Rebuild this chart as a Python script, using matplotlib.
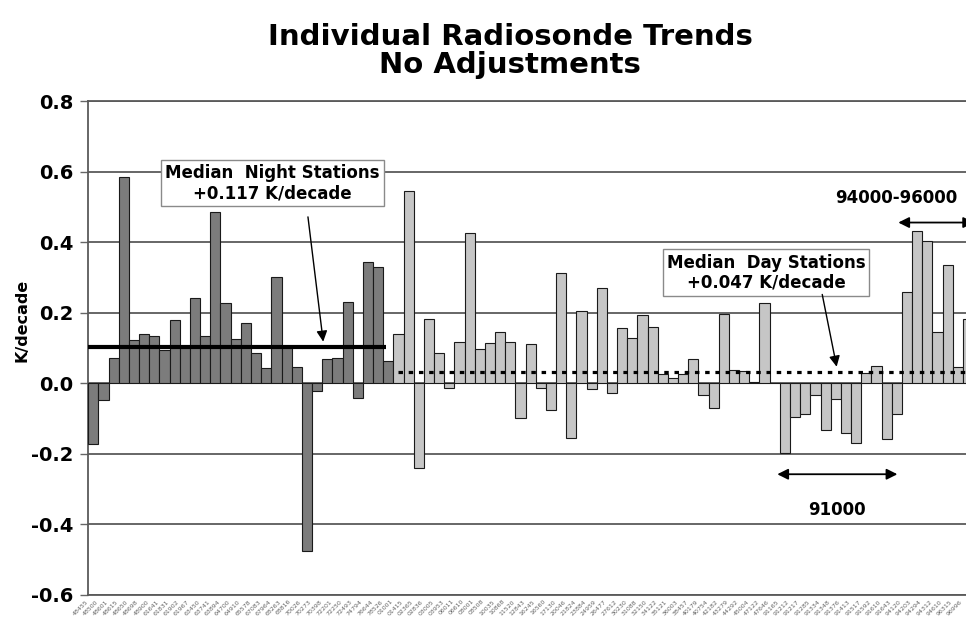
import matplotlib
matplotlib.use("Agg")
import matplotlib.pyplot as plt
import matplotlib.transforms as mtransforms
import numpy as np

# ---------------- data ----------------
night_ids = ["48455", "48500", "48601", "48615", "48650", "48698", "48900", "61641",
             "61831", "61902", "61967", "63450", "63741", "63894", "64700", "64910",
             "65578", "67083", "67964", "68263", "68816", "70026", "70273", "70398",
             "72201", "72250", "72493", "74794", "76644", "78526"]
night_vals = [-0.173, -0.048, 0.071, 0.586, 0.123, 0.140, 0.134, 0.095, 0.180, 0.100,
              0.241, 0.133, 0.487, 0.229, 0.125, 0.172, 0.087, 0.043, 0.302, 0.100,
              0.047, -0.476, -0.022, 0.069, 0.071, 0.230, -0.041, 0.345, 0.329, 0.064]

day_ids = ["01001", "01415", "02365", "02836", "03005", "03953", "06011", "06610",
           "08001", "08508", "10035", "10868", "11520", "12843", "16245", "16560",
           "17130", "20046", "21824", "23884", "24959", "26477", "27612", "30230",
           "31088", "32150", "34122", "35121", "36003", "38457", "40179", "40754",
           "42182", "43279", "44292", "45004", "47122", "47646",
           "91165", "91212", "91217", "91285", "91334", "91348", "91376", "91413",
           "91517", "91592", "91610", "91643",
           "94120", "94203", "94294", "94312", "94610", "96315", "96996"]
day_vals = [0.139, 0.546, -0.239, 0.182, 0.085, -0.014, 0.118, 0.425, 0.097, 0.113,
            0.145, 0.118, -0.098, 0.111, -0.014, -0.076, 0.314, -0.154, 0.205, -0.017,
            0.270, -0.027, 0.158, 0.128, 0.194, 0.161, 0.025, 0.016, 0.026, 0.068,
            -0.033, -0.069, 0.196, 0.038, 0.036, 0.003, 0.229, 0.0,
            -0.199, -0.097, -0.088, -0.033, -0.132, -0.045, -0.140, -0.168, 0.028,
            0.049, -0.159, -0.088,
            0.260, 0.433, 0.404, 0.145, 0.336, 0.047, 0.181]

night_median_drawn = 0.103
day_median_drawn = 0.033
night_label = "Median  Night Stations\n+0.117 K/decade"
day_label = "Median  Day Stations\n+0.047 K/decade"
yticks = [-0.6, -0.4, -0.2, 0.0, 0.2, 0.4, 0.6, 0.8]

# ---------------- figure ----------------
plt.rcParams['font.family'] = ['DejaVu Sans']
fig = plt.figure(figsize=(9.66, 6.19), dpi=100)
ax = fig.add_axes([0.0914, 0.0391, 0.9159, 0.7973])

n_night = len(night_vals)
n_day = len(day_vals)
x_night = np.arange(n_night)
x_day = np.arange(n_night, n_night + n_day)

ax.bar(x_night, night_vals, width=1.0, color='#7c7c7c', edgecolor='#1a1a1a',
       linewidth=0.8, zorder=3)
ax.bar(x_day, day_vals, width=1.0, color='#c6c6c6', edgecolor='#1a1a1a',
       linewidth=0.8, zorder=3)

# median lines
ax.plot([-0.5, 28.75], [night_median_drawn] * 2, color='black', lw=3.0,
        solid_capstyle='butt', zorder=5)
ax.plot([29.95, n_night + n_day + 1], [day_median_drawn] * 2, color='black', lw=2.3,
        linestyle=(0, (1.4, 1.8)), dash_capstyle='butt', zorder=5)

ax.set_xlim(-0.5, n_night + n_day - 0.5)
ax.set_ylim(-0.6, 0.8)
ax.set_yticks(yticks)
ax.set_yticklabels([f"{v:.1f}" for v in yticks], fontsize=14, fontweight='bold')
ax.yaxis.grid(True, color='#5a5a5a', lw=1.3, zorder=1)
ax.set_axisbelow(True)
ax.tick_params(axis='y', length=6, width=1, color='#666666', pad=5)

ax.set_xticks(np.arange(n_night + n_day))
ax.set_xticklabels(night_ids + day_ids, rotation=45, ha='right', va='top',
                   fontsize=4.5, color='#666666', rotation_mode='anchor')
ax.tick_params(axis='x', length=0, pad=3)
shift = mtransforms.ScaledTranslation(-8 / 100, 0, fig.dpi_scale_trans)
for lab in ax.get_xticklabels():
    lab.set_transform(lab.get_transform() + shift)

for s in ['left', 'bottom', 'top']:
    ax.spines[s].set_color('#5a5a5a')
    ax.spines[s].set_linewidth(1.3)
ax.spines['right'].set_visible(False)

# titles
fig.text(0.528, 0.927, "Individual Radiosonde Trends", ha='center', va='baseline',
         fontsize=21, fontweight='bold')
fig.text(0.528, 0.882, "No Adjustments", ha='center', va='baseline',
         fontsize=21, fontweight='bold')
fig.text(22 / 966, 1 - 320 / 619, "K/decade", rotation=90, ha='center', va='center',
         fontsize=11.5, fontweight='bold')

box = dict(boxstyle='square,pad=0.25', facecolor='white', edgecolor='#8a8a8a', lw=1)
ax.text(17.61, 0.568, night_label, ha='center', va='center', fontsize=12,
        fontweight='bold', bbox=box, zorder=6, linespacing=1.15)
ax.text(66.14, 0.314, day_label, ha='center', va='center', fontsize=12,
        fontweight='bold', bbox=box, zorder=6, linespacing=1.15)

arrow = dict(arrowstyle='-|>', color='black', lw=1.0, mutation_scale=16,
             shrinkA=0, shrinkB=0)
ax.annotate('', xy=(22.6, 0.118), xytext=(21.1, 0.472), arrowprops=arrow, zorder=7)
ax.annotate('', xy=(73.09, 0.047), xytext=(71.67, 0.252), arrowprops=arrow, zorder=7)

darrow = dict(arrowstyle='<|-|>', color='black', lw=1.3, mutation_scale=16,
              shrinkA=0, shrinkB=0)
ax.annotate('', xy=(86.6, 0.456), xytext=(79.15, 0.456), arrowprops=darrow, zorder=7,
            annotation_clip=False)
ax.text(78.98, 0.525, "94000-96000", ha='center', va='center', fontsize=12,
        fontweight='bold')
ax.annotate('', xy=(79.06, -0.258), xytext=(67.25, -0.258), arrowprops=darrow, zorder=7,
            annotation_clip=False)
ax.text(73.15, -0.359, "91000", ha='center', va='center', fontsize=12,
        fontweight='bold')

fig.savefig("out.png", dpi=100)
